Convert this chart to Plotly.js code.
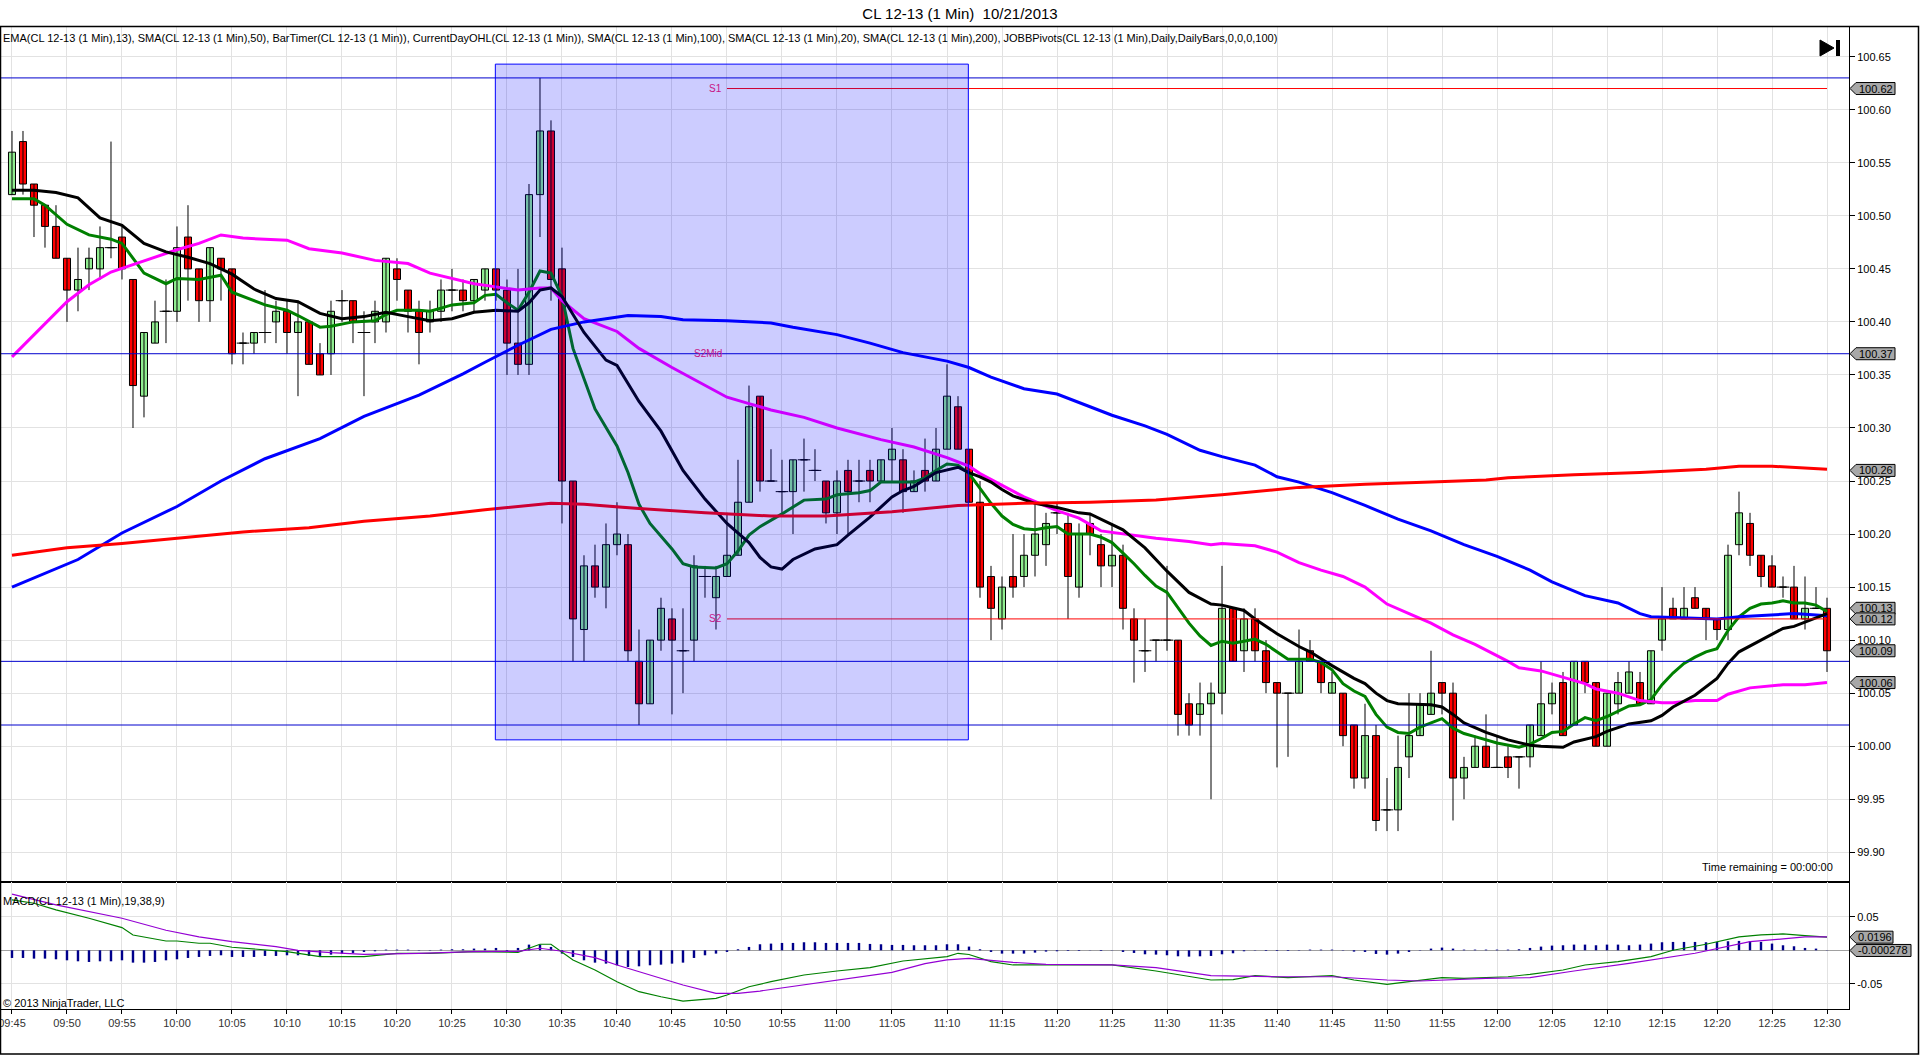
<!DOCTYPE html>
<html><head><meta charset="utf-8">
<script src="https://cdn.plot.ly/plotly-3.0.1.min.js"></script>
<style>html,body{margin:0;padding:0;background:#fff;}#chart{width:1920px;height:1055px;}</style>
</head><body><div id="chart"></div>
<script>
const times = ["09:45","09:46","09:47","09:48","09:49","09:50","09:51","09:52","09:53","09:54","09:55","09:56","09:57","09:58","09:59",
"10:00","10:01","10:02","10:03","10:04","10:05","10:06","10:07","10:08","10:09","10:10","10:11","10:12","10:13","10:14","10:15","10:16","10:17","10:18","10:19","10:20","10:21","10:22","10:23","10:24","10:25","10:26","10:27","10:28","10:29","10:30","10:31","10:32","10:33","10:34","10:35","10:36","10:37","10:38","10:39","10:40","10:41","10:42","10:43","10:44","10:45","10:46","10:47","10:48","10:49","10:50","10:51","10:52","10:53","10:54","10:55","10:56","10:57","10:58","10:59",
"11:00","11:01","11:02","11:03","11:04","11:05","11:06","11:07","11:08","11:09","11:10","11:11","11:12","11:13","11:14","11:15","11:16","11:17","11:18","11:19","11:20","11:21","11:22","11:23","11:24","11:25","11:26","11:27","11:28","11:29","11:30","11:31","11:32","11:33","11:34","11:35","11:36","11:37","11:38","11:39","11:40","11:41","11:42","11:43","11:44","11:45","11:46","11:47","11:48","11:49","11:50","11:51","11:52","11:53","11:54","11:55","11:56","11:57","11:58","11:59",
"12:00","12:01","12:02","12:03","12:04","12:05","12:06","12:07","12:08","12:09","12:10","12:11","12:12","12:13","12:14","12:15","12:16","12:17","12:18","12:19","12:20","12:21","12:22","12:23","12:24","12:25","12:26","12:27","12:28","12:29","12:30"];

const openP = [100.52,100.57,100.53,100.51,100.49,100.46,100.43,100.45,100.45,100.47,
100.48,100.44,100.33,100.38,100.41,100.41,100.48,100.45,100.42,100.46,
100.45,100.38,100.38,100.39,100.40,100.41,100.39,100.40,100.37,100.37,
100.42,100.42,100.39,100.40,100.40,100.45,100.43,100.41,100.40,100.41,
100.43,100.43,100.42,100.43,100.45,100.43,100.38,100.36,100.52,100.58,
100.45,100.25,100.11,100.17,100.15,100.19,100.19,100.08,100.04,100.10,
100.12,100.09,100.10,100.16,100.14,100.16,100.18,100.23,100.33,100.25,
100.24,100.24,100.27,100.26,100.25,100.22,100.26,100.25,100.26,100.25,
100.27,100.27,100.24,100.26,100.25,100.28,100.32,100.28,100.23,100.16,
100.12,100.16,100.16,100.18,100.19,100.22,100.21,100.15,100.21,100.19,
100.17,100.18,100.12,100.09,100.10,100.10,100.10,100.04,100.03,100.04,
100.05,100.13,100.09,100.12,100.09,100.06,100.05,100.05,100.09,100.08,
100.05,100.05,100.02,99.97,100.01,99.94,99.94,99.99,100.01,100.03,
100.06,100.05,99.97,99.98,100.00,99.98,99.99,99.99,99.99,100.01,
100.04,100.06,100.02,100.08,100.06,100.00,100.04,100.05,100.06,100.04,
100.10,100.13,100.12,100.14,100.13,100.12,100.11,100.19,100.21,100.18,
100.17,100.15,100.15,100.12,100.13,100.13];
const highP = [100.58,100.58,100.53,100.51,100.51,100.46,100.47,100.47,100.49,100.57,
100.49,100.44,100.39,100.42,100.44,100.49,100.51,100.45,100.47,100.46,
100.45,100.39,100.39,100.43,100.42,100.42,100.42,100.40,100.38,100.42,
100.43,100.42,100.41,100.42,100.46,100.46,100.43,100.42,100.42,100.44,
100.45,100.44,100.44,100.45,100.45,100.44,100.45,100.53,100.63,100.59,
100.47,100.25,100.18,100.19,100.21,100.23,100.20,100.11,100.10,100.14,
100.13,100.13,100.18,100.17,100.17,100.22,100.27,100.34,100.33,100.28,
100.27,100.27,100.29,100.28,100.25,100.26,100.27,100.27,100.27,100.27,
100.30,100.28,100.26,100.29,100.30,100.36,100.33,100.28,100.25,100.17,
100.16,100.20,100.20,100.23,100.22,100.23,100.22,100.21,100.22,100.20,
100.21,100.19,100.13,100.12,100.10,100.17,100.10,100.05,100.06,100.06,
100.17,100.13,100.13,100.13,100.10,100.06,100.05,100.11,100.10,100.08,
100.07,100.05,100.02,100.04,100.02,99.97,100.01,100.05,100.05,100.09,
100.06,100.06,99.99,100.01,100.03,100.01,100.00,99.99,100.02,100.08,
100.06,100.07,100.08,100.08,100.06,100.05,100.07,100.08,100.07,100.09,
100.15,100.14,100.15,100.15,100.13,100.12,100.19,100.24,100.22,100.18,
100.18,100.16,100.17,100.16,100.15,100.14];
const lowP = [100.52,100.52,100.48,100.47,100.46,100.40,100.41,100.43,100.44,100.46,
100.44,100.30,100.31,100.38,100.38,100.40,100.42,100.40,100.40,100.42,
100.36,100.36,100.37,100.38,100.38,100.37,100.33,100.36,100.35,100.35,
100.40,100.38,100.33,100.38,100.39,100.42,100.39,100.36,100.39,100.40,
100.41,100.41,100.41,100.42,100.42,100.35,100.35,100.35,100.48,100.42,
100.21,100.08,100.08,100.14,100.13,100.18,100.08,100.02,100.04,100.09,
100.03,100.05,100.08,100.14,100.11,100.16,100.18,100.23,100.24,100.25,
100.22,100.20,100.24,100.25,100.21,100.20,100.20,100.23,100.23,100.25,
100.25,100.22,100.24,100.24,100.25,100.28,100.28,100.23,100.14,100.10,
100.11,100.14,100.15,100.16,100.17,100.20,100.12,100.14,100.18,100.15,
100.15,100.11,100.06,100.07,100.08,100.09,100.01,100.01,100.01,99.95,
100.03,100.08,100.07,100.08,100.05,99.98,99.99,100.05,100.08,100.05,
100.05,100.00,99.96,99.96,99.92,99.92,99.92,99.97,100.01,100.03,
100.03,99.93,99.95,99.98,99.98,99.98,99.97,99.96,99.98,100.01,
100.03,100.01,100.02,100.05,100.00,100.00,100.03,100.05,100.04,100.04,
100.09,100.12,100.12,100.13,100.10,100.10,100.10,100.18,100.17,100.15,
100.15,100.14,100.12,100.11,100.13,100.07];
const closeP = [100.56,100.53,100.51,100.49,100.46,100.43,100.44,100.46,100.47,100.47,
100.45,100.34,100.39,100.40,100.41,100.47,100.45,100.42,100.47,100.45,
100.37,100.38,100.39,100.39,100.41,100.39,100.40,100.36,100.35,100.41,
100.42,100.40,100.39,100.41,100.46,100.44,100.41,100.39,100.41,100.43,
100.43,100.42,100.44,100.45,100.43,100.38,100.36,100.52,100.58,100.44,
100.25,100.12,100.17,100.15,100.19,100.20,100.09,100.04,100.10,100.13,
100.10,100.09,100.17,100.16,100.16,100.18,100.23,100.32,100.25,100.25,
100.24,100.27,100.27,100.26,100.22,100.25,100.24,100.25,100.25,100.27,
100.28,100.24,100.25,100.25,100.28,100.33,100.28,100.23,100.15,100.13,
100.15,100.15,100.18,100.20,100.21,100.22,100.16,100.20,100.20,100.17,
100.18,100.13,100.10,100.09,100.10,100.10,100.03,100.02,100.04,100.05,
100.13,100.08,100.12,100.09,100.06,100.05,100.05,100.08,100.08,100.06,
100.06,100.01,99.97,100.01,99.93,99.94,99.98,100.01,100.04,100.05,
100.05,99.97,99.98,100.00,99.98,99.98,99.98,99.99,100.02,100.04,
100.05,100.01,100.08,100.06,100.00,100.05,100.06,100.07,100.04,100.09,
100.12,100.12,100.13,100.13,100.12,100.11,100.18,100.22,100.18,100.16,
100.15,100.15,100.12,100.13,100.13,100.09];

const ema13Idx = [0,2,3,5,7,9,10,12,14,15,17,19,20,23,25,26,28,29,31,33,34,35,37,38,39,40,42,43,44,45,46,47,48,49,50,51,53,55,56,57,58,60,61,62,64,65,66,67,68,69,70,72,74,75,77,78,79,82,83,84,85,86,87,88,89,90,91,92,93,94,95,96,98,99,100,101,102,103,104,105,106,107,108,109,110,111,112,113,114,115,116,118,119,120,121,122,123,124,125,126,127,128,129,130,131,132,133,135,137,138,139,140,141,142,143,144,145,146,147,148,149,150,151,152,153,154,155,156,157,158,159,160,161,162,163,164,165];
const ema13Val = [100.516,100.516,100.510,100.492,100.482,100.478,100.474,100.446,100.436,100.441,100.440,100.444,100.428,100.416,100.411,100.406,100.395,100.396,100.400,100.401,100.407,100.411,100.411,100.410,100.413,100.416,100.418,100.425,100.426,100.418,100.411,100.428,100.448,100.446,100.424,100.375,100.318,100.283,100.258,100.228,100.210,100.186,100.172,100.169,100.168,100.172,100.184,100.199,100.207,100.213,100.219,100.232,100.233,100.237,100.239,100.241,100.249,100.249,100.253,100.260,100.266,100.265,100.257,100.243,100.229,100.217,100.209,100.205,100.204,100.206,100.207,100.200,100.200,100.197,100.192,100.182,100.172,100.161,100.151,100.145,100.131,100.116,100.104,100.095,100.099,100.097,100.099,100.101,100.096,100.089,100.082,100.082,100.079,100.072,100.059,100.052,100.047,100.030,100.018,100.013,100.012,100.018,100.022,100.026,100.017,100.012,100.009,100.003,99.999,100.002,100.007,100.013,100.014,100.021,100.027,100.024,100.028,100.033,100.038,100.039,100.044,100.058,100.069,100.078,100.084,100.089,100.092,100.109,100.122,100.130,100.134,100.135,100.137,100.135,100.135,100.133,100.127];

const sma20Idx = [0,2,4,6,8,10,12,14,16,18,20,22,24,26,28,30,32,34,36,38,40,42,44,46,47,48,49,50,52,54,55,57,59,61,63,65,67,68,69,70,71,73,75,76,78,80,81,82,84,86,87,88,89,90,91,93,95,97,98,99,101,103,105,107,109,110,112,113,115,117,118,120,121,122,123,124,125,126,129,130,131,132,134,136,138,139,141,142,144,145,147,149,150,151,153,155,156,157,159,161,162,163,165];
const sma20Val = [100.524,100.524,100.522,100.517,100.498,100.491,100.474,100.466,100.461,100.455,100.445,100.431,100.422,100.419,100.408,100.403,100.405,100.409,100.405,100.401,100.403,100.409,100.411,100.410,100.418,100.430,100.432,100.424,100.390,100.364,100.359,100.325,100.297,100.260,100.233,100.210,100.192,100.178,100.169,100.167,100.176,100.186,100.190,100.199,100.216,100.235,100.241,100.245,100.258,100.263,100.258,100.254,100.249,100.242,100.236,100.229,100.225,100.220,100.219,100.214,100.204,100.187,100.165,100.145,100.134,100.133,100.128,100.120,100.106,100.094,100.089,100.076,100.070,100.064,100.059,100.050,100.043,100.040,100.039,100.037,100.030,100.022,100.013,100.006,100.001,100.000,99.999,100.004,100.009,100.014,100.021,100.024,100.029,100.037,100.048,100.064,100.078,100.089,100.100,100.111,100.113,100.117,100.125];

const sma50Idx = [0,2,5,7,9,11,15,17,19,21,25,27,30,33,36,38,40,42,44,46,48,49,50,52,55,57,60,62,65,67,69,72,75,79,82,85,87,88,90,92,95,97,99,101,104,107,109,110,113,115,117,119,121,123,125,127,129,131,133,136,137,139,141,143,144,146,148,150,151,153,155,156,158,161,163,165];
const sma50Val = [100.367,100.388,100.419,100.435,100.447,100.454,100.468,100.474,100.482,100.479,100.477,100.469,100.465,100.458,100.455,100.446,100.441,100.436,100.433,100.430,100.432,100.432,100.420,100.403,100.391,100.375,100.357,100.346,100.329,100.323,100.317,100.310,100.300,100.289,100.282,100.272,100.264,100.257,100.246,100.235,100.222,100.215,100.203,100.200,100.196,100.193,100.190,100.191,100.189,100.183,100.173,100.166,100.160,100.150,100.134,100.125,100.116,100.105,100.096,100.080,100.074,100.071,100.065,100.059,100.054,100.050,100.043,100.041,100.041,100.043,100.043,100.049,100.055,100.058,100.058,100.060];

const sma100Idx = [0,6,10,15,19,23,28,32,37,41,43,46,49,52,56,59,61,65,69,71,75,78,81,85,87,89,92,95,98,100,103,105,108,110,113,115,117,120,123,126,129,131,132,135,138,140,143,146,148,149,152,155,157,160,162,165];
const sma100Val = [100.150,100.176,100.201,100.226,100.250,100.271,100.290,100.311,100.331,100.351,100.362,100.378,100.393,100.400,100.406,100.405,100.402,100.401,100.399,100.395,100.388,100.380,100.371,100.363,100.357,100.348,100.337,100.332,100.320,100.312,100.302,100.294,100.279,100.273,100.265,100.254,100.249,100.239,100.227,100.214,100.203,100.194,100.190,100.179,100.166,100.155,100.142,100.135,100.125,100.122,100.121,100.120,100.122,100.124,100.125,100.123];

const sma200Idx = [0,5,10,16,21,27,32,38,43,49,52,57,63,69,74,80,86,92,98,104,110,117,123,129,134,136,142,148,154,157,160,165];
const sma200Val = [100.180,100.187,100.191,100.197,100.202,100.206,100.212,100.217,100.223,100.229,100.228,100.224,100.220,100.217,100.217,100.221,100.227,100.229,100.230,100.232,100.237,100.244,100.247,100.249,100.251,100.253,100.256,100.258,100.261,100.264,100.264,100.261];

const macdIdx = [0,2,4,7,10,11,14,15,17,18,20,23,25,28,32,35,38,42,46,47,48,49,51,53,55,57,59,61,64,65,67,69,72,75,78,81,83,85,86,87,89,91,94,100,104,106,109,111,113,116,120,122,125,127,130,132,136,138,141,143,146,149,151,154,157,159,161,163,165];
const macdVal = [0.0754,0.0704,0.0604,0.048,0.034,0.0229,0.0139,0.0139,0.0105,0.0105,0.0045,0.0,-0.002,-0.0096,-0.0096,-0.0045,-0.0045,-0.002,-0.003,0.003,0.009,0.009,-0.0145,-0.0295,-0.047,-0.062,-0.0696,-0.076,-0.072,-0.067,-0.0546,-0.047,-0.037,-0.031,-0.026,-0.016,-0.013,-0.0096,-0.0045,-0.0063,-0.017,-0.022,-0.022,-0.022,-0.031,-0.036,-0.0445,-0.044,-0.038,-0.041,-0.038,-0.0445,-0.051,-0.047,-0.041,-0.042,-0.0396,-0.036,-0.0295,-0.022,-0.017,-0.0096,0.0,0.009,0.020,0.023,0.0245,0.022,0.0196];

const signalIdx = [0,4,10,14,17,20,24,26,29,32,37,42,46,48,50,53,55,58,61,64,66,68,72,75,80,83,85,87,91,94,100,104,109,115,120,125,128,134,138,142,147,153,158,161,163,165];
const signalVal = [0.084,0.068,0.048,0.030,0.020,0.013,0.0054,0.0,-0.0036,-0.006,-0.0045,-0.002,-0.0015,0.003,-0.0015,-0.011,-0.022,-0.037,-0.052,-0.0645,-0.0645,-0.061,-0.052,-0.0445,-0.033,-0.020,-0.0145,-0.012,-0.018,-0.021,-0.022,-0.026,-0.038,-0.0396,-0.0396,-0.0445,-0.046,-0.042,-0.041,-0.031,-0.0195,-0.0045,0.013,0.017,0.020,0.020];

const macdDiff = [-0.0115,-0.0115,-0.0125,-0.0125,-0.0135,-0.015,-0.0165,-0.0175,-0.0165,-0.0165,
-0.015,-0.0185,-0.0185,-0.0175,-0.015,-0.0135,-0.0115,-0.010,-0.0085,-0.0075,
-0.010,-0.010,-0.010,-0.0085,-0.0085,-0.0075,-0.0075,-0.0085,-0.0085,-0.0065,
-0.005,-0.004,-0.0025,-0.0015,0.001,0.001,0.001,-0.0005,-0.0005,0.001,
0.0015,0.0015,0.0025,0.0025,0.0035,-0.0015,0.0035,0.0085,0.0085,0.005,
-0.005,-0.010,-0.015,-0.0185,-0.020,-0.0225,-0.025,-0.024,-0.0225,-0.0215,
-0.020,-0.0185,-0.0115,-0.0075,-0.005,-0.0025,0.0015,0.005,0.009,0.010,
0.011,0.011,0.012,0.012,0.011,0.011,0.011,0.011,0.0095,0.009,
0.008,0.008,0.0075,0.0075,0.0075,0.009,0.009,0.0055,0.0015,-0.0025,
-0.005,-0.005,-0.005,-0.0035,-0.002,-0.0015,-0.001,-0.001,0.0003,-0.001,
0.0003,-0.0025,-0.004,-0.006,-0.0065,-0.0075,-0.009,-0.0095,-0.009,-0.0085,
-0.006,-0.0045,-0.0015,-0.0005,-0.001,-0.001,-0.001,-0.0005,0.001,0.001,
0.001,-0.0005,-0.002,-0.0025,-0.0055,-0.0065,-0.005,-0.0025,-0.0005,0.0025,
0.004,0.0025,0.001,0.001,0.001,0.001,0.001,0.0015,0.0035,0.0055,
0.007,0.0075,0.0085,0.0085,0.0075,0.0085,0.0085,0.0075,0.0085,0.010,
0.012,0.0125,0.0125,0.0125,0.012,0.0125,0.0135,0.014,0.0135,0.0125,
0.010,0.0075,0.006,0.0035,0.0025,-0.0003];

const ohlLevels = [100.63, 100.37, 100.08, 100.02];
const pivotNames = ["S1", "S2Mid", "S2"];
const pivotLevels = [100.62, 100.37, 100.12];
const priceFlagVals = [100.62, 100.37, 100.26, 100.13, 100.12, 100.09, 100.06];
const priceFlagText = ["100.62", "100.37", "100.26", "100.13", "100.12", "100.09", "100.06"];
const macdFlagVals = [0.0196, -0.000278];
const macdFlagText = ["0.0196", "-0.000278"];

// ---------- geometry ----------
const W = 1920, H = 1055, ML = 0, MR = 71, MT = 27, MB = 46;
const PW = W - ML - MR, PH = H - MT - MB;
const pxX = px => (px - ML) / PW;
const pxY = py => (H - MB - py) / PH;
const split = pxY(882);
const FONT = "Liberation Sans, Arial, sans-serif";
const catX = idx => idx.map(k => times[k]);

// ---------- traces ----------
const wickX = [], wickY = [];
times.forEach((t, i) => { wickX.push(t, t, null); wickY.push(lowP[i], highP[i], null); });
const bodyBase = openP.map((o, i) => Math.min(o, closeP[i]));
const bodyH = openP.map((o, i) => Math.abs(closeP[i] - o));
const bodyCol = openP.map((o, i) => closeP[i] > o ? "#90EE90" : "#FF0000");
const dojiX = [], dojiY = [];
openP.forEach((o, i) => { if (o === closeP[i]) { dojiX.push(times[i]); dojiY.push(o); } });

const line = (idx, val, color, w, xa, ya) => ({type: "scatter", mode: "lines", x: catX(idx), y: val,
  xaxis: xa, yaxis: ya, line: {color: color, width: w, shape: "linear"}, hoverinfo: "skip", showlegend: false});

const traces = [
  {type: "scatter", mode: "lines", x: wickX, y: wickY, xaxis: "x", yaxis: "y",
   line: {color: "#000", width: 1}, hoverinfo: "skip", showlegend: false, connectgaps: false},
  {type: "bar", x: times, y: bodyH, base: bodyBase, width: 0.64, xaxis: "x", yaxis: "y",
   marker: {color: bodyCol, line: {color: "#000", width: 1}}, hoverinfo: "skip", showlegend: false},
  {type: "scatter", mode: "markers", x: dojiX, y: dojiY, xaxis: "x", yaxis: "y",
   marker: {symbol: "line-ew", size: 9, color: "#000", line: {color: "#000", width: 1}}, hoverinfo: "skip", showlegend: false},
  line(ema13Idx, ema13Val, "#008000", 3, "x", "y"),
  line(sma50Idx, sma50Val, "#FF00FF", 3, "x", "y"),
  line(sma100Idx, sma100Val, "#0000FF", 3, "x", "y"),
  line(sma20Idx, sma20Val, "#000000", 3, "x", "y"),
  line(sma200Idx, sma200Val, "#FF0000", 3, "x", "y"),
  {type: "bar", x: times, y: macdDiff, width: 0.22, xaxis: "x2", yaxis: "y2",
   marker: {color: "#00008B", line: {width: 0}}, hoverinfo: "skip", showlegend: false},
  line(macdIdx, macdVal, "#008000", 1.2, "x2", "y2"),
  line(signalIdx, signalVal, "#9400D3", 1.2, "x2", "y2")
];

// ---------- shapes ----------
const shapes = [];
ohlLevels.forEach(v => shapes.push({type: "line", xref: "paper", yref: "y", x0: 0, x1: 1, y0: v, y1: v,
  line: {color: "#0000CD", width: 1}, layer: "above"}));
pivotLevels.forEach((v, k) => { if (pivotNames[k] !== "S2Mid") shapes.push({type: "line", xref: "x", yref: "y", x0: 65, x1: 165, y0: v, y1: v,
  line: {color: "#FF0000", width: 1}, layer: "above"}); });
// shaded selection rectangle
shapes.push({type: "rect", xref: "x", yref: "y", x0: 43.94, x1: 86.94, y0: 100.006, y1: 100.643,
  fillcolor: "rgba(0,0,255,0.2)", line: {color: "#0000FF", width: 1}, layer: "above"});
// price flags
const flag = (yref, v, w) => ({type: "path", xref: "paper", yref: yref, xsizemode: "pixel", ysizemode: "pixel",
  xanchor: 1, yanchor: v, path: `M1,0 L7,6 L${w},6 L${w},-6 L7,-6 Z`,
  fillcolor: "#A8A8A8", line: {color: "#000", width: 1}, layer: "above"});
priceFlagVals.forEach(v => shapes.push(flag("y", v, 46)));
macdFlagVals.forEach((v, k) => shapes.push(flag("y2", v, k === 0 ? 44 : 62)));
// go-to-end icon
shapes.push({type: "path", xref: "paper", yref: "paper",
  path: `M${pxX(1820)},${pxY(40)} L${pxX(1820)},${pxY(56)} L${pxX(1834)},${pxY(48)} Z`,
  fillcolor: "#000", line: {color: "#000", width: 1}, layer: "above"});
shapes.push({type: "rect", xref: "paper", yref: "paper", x0: pxX(1836), x1: pxX(1840), y0: pxY(56), y1: pxY(40),
  fillcolor: "#000", line: {color: "#000", width: 0}, layer: "above"});
// outer frame
shapes.push({type: "rect", xref: "paper", yref: "paper", x0: pxX(0.5), x1: pxX(1918.5), y0: pxY(1054), y1: pxY(26.5),
  line: {color: "#000", width: 1.5}, fillcolor: "rgba(0,0,0,0)", layer: "above"});

// ---------- annotations ----------
const ann = [];
const txt = (text, x, y, xa, size, color, xref, yref) => ({text: text, x: x, y: y, xref: xref || "paper", yref: yref || "paper",
  xanchor: xa, yanchor: "middle", showarrow: false, font: {family: FONT, size: size, color: color || "#000"}});
ann.push(txt("EMA(CL 12-13 (1 Min),13), SMA(CL 12-13 (1 Min),50), BarTimer(CL 12-13 (1 Min)), CurrentDayOHL(CL 12-13 (1 Min)), SMA(CL 12-13 (1 Min),100), SMA(CL 12-13 (1 Min),20), SMA(CL 12-13 (1 Min),200), JOBBPivots(CL 12-13 (1 Min),Daily,DailyBars,0,0,0,100)",
  pxX(1), pxY(38), "left", 11));
ann.push(txt("Time remaining = 00:00:00", pxX(1835), pxY(867), "right", 11));
ann.push(txt("MACD(CL 12-13 (1 Min),19,38,9)", pxX(1), pxY(901), "left", 11));
ann.push(txt("© 2013 NinjaTrader, LLC", pxX(1), pxY(1003), "left", 11));
pivotNames.forEach((n, k) => ann.push(txt(n, 64.75, pivotLevels[k], "right", 10, "#C71585", "x", "y")));
priceFlagVals.forEach((v, k) => ann.push(txt(priceFlagText[k], pxX(1857), v, "left", 11, "#000", "paper", "y")));
macdFlagVals.forEach((v, k) => ann.push(txt(macdFlagText[k], pxX(1856), v, "left", 11, "#000", "paper", "y2")));

// ---------- layout ----------
const GRID = "#E2E2E2";
const xCommon = {type: "category", categoryorder: "array", categoryarray: times, range: [-1.09, 167.0],
  tickmode: "linear", tick0: 0, dtick: 5, showgrid: true, gridcolor: GRID, gridwidth: 1, zeroline: false,
  showline: true, linecolor: "#000", linewidth: 1, mirror: true, fixedrange: true};
const layout = {
  width: W, height: H, margin: {l: ML, r: MR, t: MT, b: MB, pad: 0},
  paper_bgcolor: "#FFFFFF", plot_bgcolor: "#FFFFFF",
  font: {family: FONT, size: 11, color: "#000"},
  showlegend: false, hovermode: false, dragmode: false, barmode: "overlay",
  title: {text: "CL 12-13 (1 Min)\u00a0\u00a010/21/2013", x: 0.5, xanchor: "center", xref: "container",
    y: 1 - 13.5 / H, yanchor: "middle", yref: "container", font: {family: FONT, size: 15, color: "#000"}},
  xaxis: Object.assign({}, xCommon, {anchor: "y", showticklabels: false, ticks: ""}),
  xaxis2: Object.assign({}, xCommon, {anchor: "y2", showticklabels: true, ticks: "outside", ticklen: 4,
    tickcolor: "#000", tickfont: {family: FONT, size: 11, color: "#333"}}),
  yaxis: {domain: [split, 1], range: [99.872, 100.678], side: "right", tickmode: "linear", tick0: 99.9, dtick: 0.05,
    tickformat: ".2f", ticks: "outside", ticklen: 5, tickcolor: "#000", tickfont: {family: FONT, size: 11, color: "#000"},
    showgrid: true, gridcolor: GRID, zeroline: false, showline: true, mirror: true, linecolor: "#000", linewidth: 1, fixedrange: true},
  yaxis2: {domain: [0, split], range: [-0.0879, 0.1022], side: "right", tickmode: "array", tickvals: [-0.05, 0.05],
    ticktext: ["-0.05", "0.05"], ticks: "outside", ticklen: 5, tickcolor: "#000", tickfont: {family: FONT, size: 11, color: "#000"},
    showgrid: true, gridcolor: GRID, zeroline: true, zerolinecolor: "#A0A0A0", zerolinewidth: 1.5,
    showline: true, mirror: true, linecolor: "#000", linewidth: 1, fixedrange: true},
  shapes: shapes,
  annotations: ann
};
Plotly.newPlot("chart", traces, layout, {staticPlot: true, displayModeBar: false, responsive: false});
</script>
</body></html>
